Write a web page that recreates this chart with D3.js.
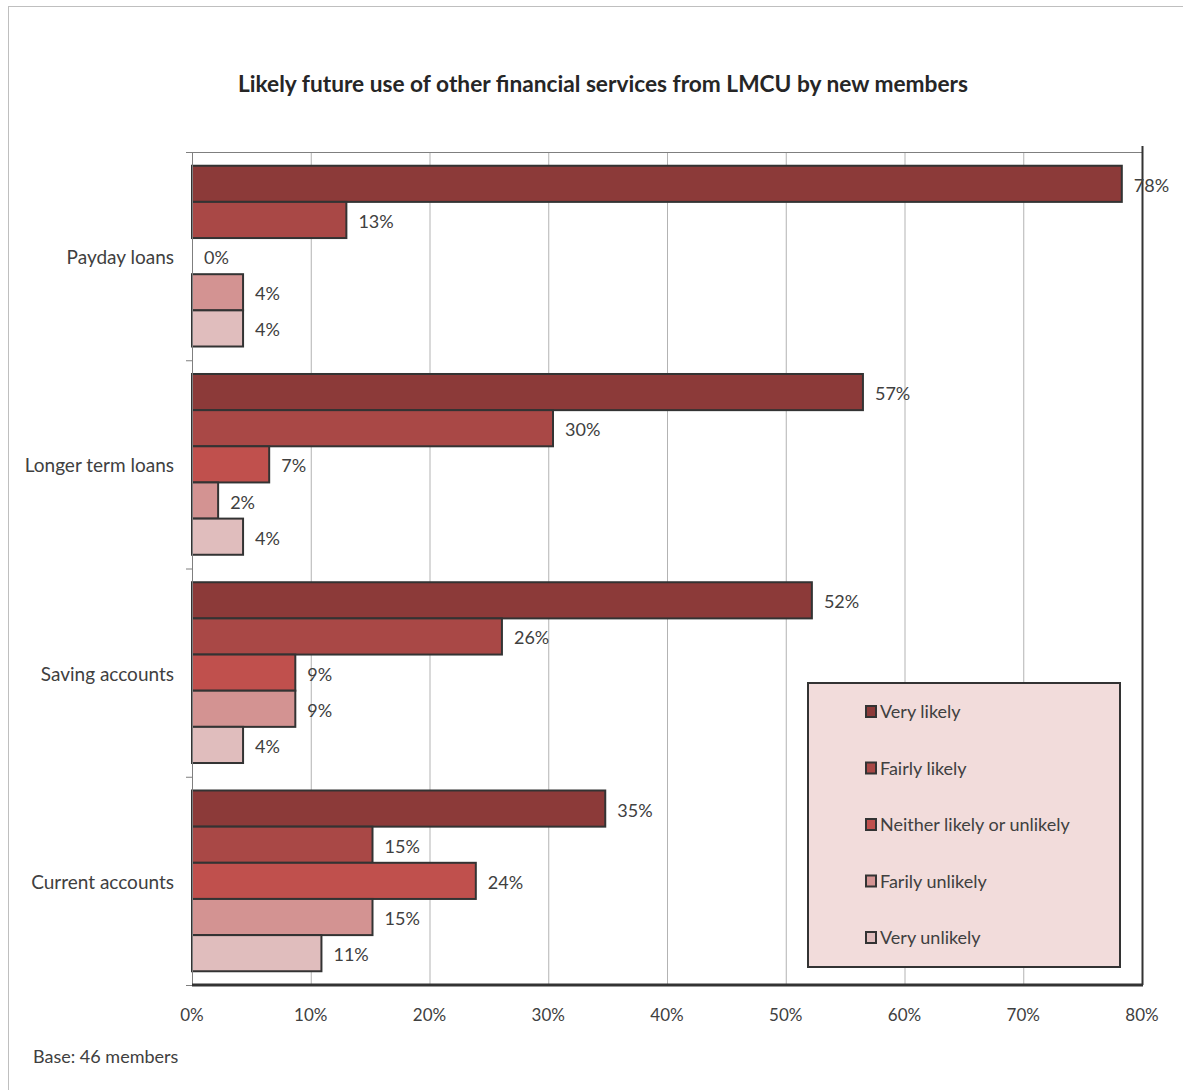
<!DOCTYPE html>
<html>
<head>
<meta charset="UTF-8">
<script src="https://d3js.org/d3.v7.min.js"></script>
<style>
  html, body { margin: 0; padding: 0; background: #fff; }
  svg text { font-family: Lato, 'Open Sans', sans-serif; fill: #404040; }
</style>
<title>LMCU</title>
</head>
<body>
<script>
// data (percent of 46 members)
var categories = ["Payday loans", "Longer term loans", "Saving accounts", "Current accounts"];
var seriesNames = ["Very likely", "Fairly likely", "Neither likely or unlikely", "Farily unlikely", "Very unlikely"];
var seriesColors = ["#8c3a39", "#a94846", "#c0504d", "#d39392", "#e0bdbd"];
var veryLikely    = [78.3, 56.5, 52.2, 34.8];
var fairlyLikely  = [13.0, 30.4, 26.1, 15.2];
var neither       = [0, 6.5, 8.7, 23.9];
var fairlyUnlikely = [4.3, 2.2, 8.7, 15.2];
var veryUnlikely  = [4.3, 4.3, 4.3, 10.9];
var xTicks = [0, 10, 20, 30, 40, 50, 60, 70, 80];

var seriesValues = [veryLikely, fairlyLikely, neither, fairlyUnlikely, veryUnlikely];

var W = 1183, H = 1090;
var pLeft = 192, pRight = 1142, pTop = 152, pBottom = 985;

var svg = d3.select("body").append("svg").attr("width", W).attr("height", H);

// outer frame
svg.append("rect").attr("x", 8.5).attr("y", 6.5).attr("width", W).attr("height", H)
  .style("fill", "none").style("stroke", "#bfbfbf").style("stroke-width", 1);

svg.append("text").attr("x", 603).attr("y", 92).attr("text-anchor", "middle")
  .attr("textLength", 730).attr("lengthAdjust", "spacingAndGlyphs")
  .style("font-size", "23px").style("font-weight", "bold").style("fill", "#262626")
  .text("Likely future use of other financial services from LMCU by new members");

var x = d3.scaleLinear().domain([0, 80]).range([pLeft, pRight]);
var y0 = d3.scaleBand().domain(categories).range([pTop, pBottom]);
var y1 = d3.scaleBand().domain(d3.range(5)).range([0, y0.bandwidth()]).paddingOuter(0.38).paddingInner(0);

// gridlines
svg.append("g").selectAll("line").data(xTicks.filter(function(d) { return d > 0 && d < 80; }))
  .enter().append("line")
  .attr("x1", function(d) { return x(d) + 0.5; }).attr("x2", function(d) { return x(d) + 0.5; })
  .attr("y1", pTop).attr("y2", pBottom)
  .style("stroke", "#b3b3b3").style("stroke-width", 1);

// plot frame: top and right
svg.append("line").attr("x1", pLeft).attr("x2", pRight).attr("y1", pTop + 0.5).attr("y2", pTop + 0.5)
  .style("stroke", "#7f7f7f").style("stroke-width", 1);
svg.append("line").attr("x1", pRight + 0.5).attr("x2", pRight + 0.5).attr("y1", 146).attr("y2", pBottom)
  .style("stroke", "#333").style("stroke-width", 2);

// x axis labels
svg.append("g").selectAll("text").data(xTicks).enter().append("text")
  .attr("x", function(d) { return x(d); }).attr("y", 1021).attr("text-anchor", "middle")
  .style("font-size", "17px")
  .text(function(d) { return d + "%"; });

// bars
var groups = svg.append("g").selectAll("g").data(categories).enter().append("g")
  .attr("transform", function(d) { return "translate(0," + y0(d) + ")"; });

groups.each(function(cat, ci) {
  var g = d3.select(this);
  seriesValues.forEach(function(vals, si) {
    var v = vals[ci];
    if (v > 0) {
      g.append("rect").attr("x", x(0)).attr("y", y1(si))
        .attr("width", x(v) - x(0)).attr("height", y1.bandwidth())
        .style("fill", seriesColors[si]).style("stroke", "#333").style("stroke-width", 2);
    }
    g.append("text").attr("x", x(v) + 12).attr("y", y1(si) + y1.bandwidth() / 2 + 8)
      .style("font-size", "18px")
      .text(Math.round(v) + "%");
  });
});

// category labels
svg.append("g").selectAll("text").data(categories).enter().append("text")
  .attr("x", 174).attr("y", function(d) { return y0(d) + y0.bandwidth() / 2 + 8; })
  .attr("text-anchor", "end").style("font-size", "19px")
  .text(function(d) { return d; });

// left axis with ticks
svg.append("line").attr("x1", pLeft + 0.5).attr("x2", pLeft + 0.5).attr("y1", pTop).attr("y2", pBottom)
  .style("stroke", "#7f7f7f").style("stroke-width", 1);
var bounds = categories.map(function(d) { return y0(d); }).concat([pBottom]);
svg.append("g").selectAll("line").data(bounds).enter().append("line")
  .attr("x1", 186).attr("x2", pLeft).attr("y1", function(d) { return d + 0.5; }).attr("y2", function(d) { return d + 0.5; })
  .style("stroke", "#7f7f7f").style("stroke-width", 1);

// bottom axis line
svg.append("line").attr("x1", pLeft).attr("x2", pRight + 1).attr("y1", pBottom).attr("y2", pBottom)
  .style("stroke", "#333").style("stroke-width", 3);

// legend
var lg = svg.append("g");
lg.append("rect").attr("x", 808).attr("y", 683).attr("width", 312).attr("height", 284)
  .style("fill", "#f2dcdb").style("stroke", "#333").style("stroke-width", 2);
var ly = d3.scalePoint().domain(seriesNames).range([711, 937]);
seriesNames.forEach(function(n, i) {
  lg.append("rect").attr("x", 866).attr("y", ly(n) - 5).attr("width", 10).attr("height", 11)
    .style("fill", seriesColors[i]).style("stroke", "#333").style("stroke-width", 2);
  lg.append("text").attr("x", 880).attr("y", ly(n) + 7).style("font-size", "18px").text(n);
});

svg.append("text").attr("x", 33).attr("y", 1063).style("font-size", "18px").text("Base: 46 members");
</script>
</body>
</html>
